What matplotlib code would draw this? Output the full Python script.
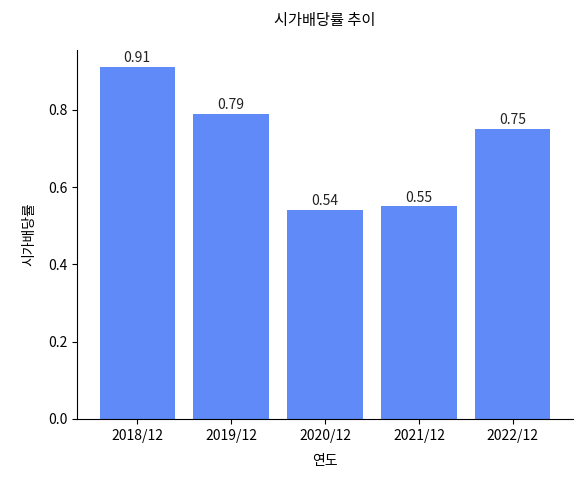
import matplotlib
matplotlib.use('Agg')
import matplotlib.pyplot as plt

plt.rcParams['font.family'] = ['Noto Sans CJK KR', 'DejaVu Sans']

years = ['2018/12', '2019/12', '2020/12', '2021/12', '2022/12']
ratio = [0.91, 0.79, 0.54, 0.55, 0.75]

fig = plt.figure(figsize=(5.82, 4.79), dpi=100)
ax = fig.add_axes([77 / 582, 60 / 479, 496 / 582, 369 / 479])
bars = ax.bar(years, ratio, color='#5f8af7', width=0.8)
for b, v in zip(bars, ratio):
    ax.text(b.get_x() + b.get_width() / 2, v + 0.005, f'{v:.2f}',
            ha='center', va='bottom', fontsize=10, color='#222222')
ax.set_ylim(0, 0.955)
ax.set_yticks([0, 0.2, 0.4, 0.6, 0.8])
ax.set_title('시가배당률 추이', fontsize=11, pad=18)
ax.set_xlabel('연도', fontsize=10, labelpad=8)
ax.set_ylabel('시가배당률', fontsize=10, labelpad=8)
ax.tick_params(labelsize=10)
ax.spines['top'].set_visible(False)
ax.spines['right'].set_visible(False)
fig.savefig('out.png', dpi=100)
